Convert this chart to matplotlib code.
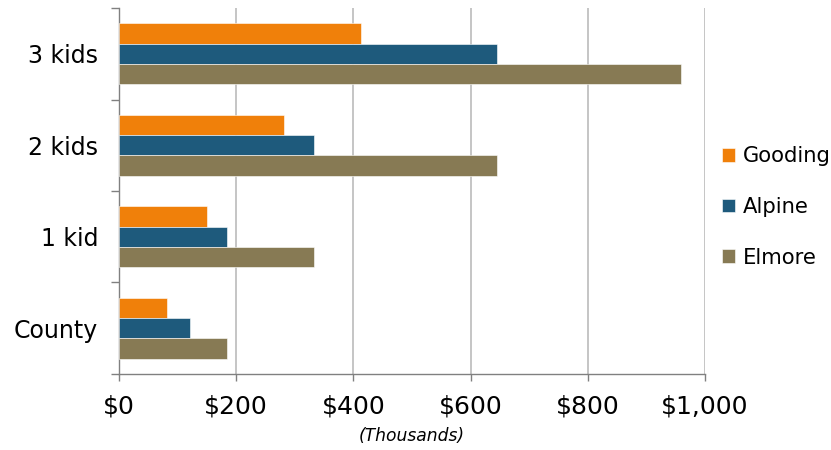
import matplotlib.pyplot as plt
import numpy as np
from matplotlib.ticker import FuncFormatter, MultipleLocator

categories = ["County", "1 kid", "2 kids", "3 kids"]
gooding = [82, 151, 282, 413]
alpine = [122, 185, 332, 645]
elmore = [185, 332, 645, 959]

series = [("Gooding", gooding, "#F0800A"),
          ("Alpine", alpine, "#1E5A7C"),
          ("Elmore", elmore, "#877A54")]

fig = plt.figure(figsize=(8.31, 4.5), dpi=100)
ax = fig.add_axes([0.1432, 0.169, 0.705, 0.813])

y = np.arange(len(categories))
h = 0.222
for i, (name, vals, color) in enumerate(series):
    ax.barh(y + (1 - i) * h, vals, height=h, color=color, label=name,
            edgecolor="#ffffff", linewidth=0.4, zorder=3)

ax.set_xlim(0, 1000)
ax.set_ylim(-0.5, len(categories) - 0.5)
ax.xaxis.set_major_locator(MultipleLocator(200))
ax.xaxis.set_major_formatter(FuncFormatter(lambda v, p: "${:,.0f}".format(v)))
ax.grid(axis="x", color="#c0c0c0", linewidth=1.3, zorder=0)

ax.set_yticks(y)
ax.set_yticklabels(categories)
ax.set_yticks(np.arange(-0.5, len(categories)), minor=True)
ax.tick_params(axis="y", which="major", length=0, pad=15, labelsize=17)
ax.tick_params(axis="y", which="minor", length=6, color="#808080", width=1)
ax.tick_params(axis="x", length=5, color="#808080", width=1, labelsize=18, pad=10)

for s in ["top", "right"]:
    ax.spines[s].set_visible(False)
for s in ["left", "bottom"]:
    ax.spines[s].set_color("#808080")
    ax.spines[s].set_linewidth(1)

ax.set_xlabel("(Thousands)", fontsize=12.3, style="italic", labelpad=6)

fig.legend(loc="center left", bbox_to_anchor=(0.846, 0.540), frameon=False,
           fontsize=15.2, handlelength=0.6, handleheight=0.6,
           handletextpad=0.4, labelspacing=1.45)

fig.savefig("out.png", dpi=100)
